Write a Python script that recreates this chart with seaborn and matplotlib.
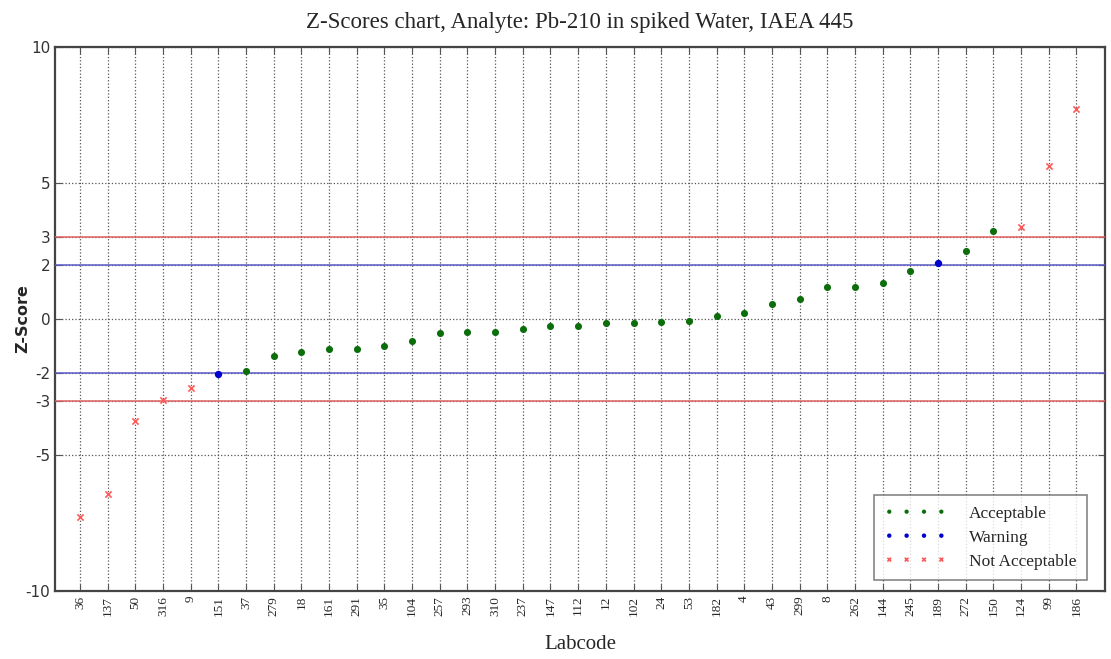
import pandas as pd
import matplotlib.pyplot as plt
import seaborn as sns

# dados
labcodes = ['36', '137', '50', '316', '9', '151', '37', '279', '18', '161', '291', '35', '104',
            '257', '293', '310', '237', '147', '112', '12', '102', '24', '53', '182', '4', '43',
            '299', '8', '262', '144', '245', '189', '272', '150', '124', '99', '186']
zscores = [-7.27, -6.45, -3.74, -2.99, -2.55, -2.02, -1.90, -1.36, -1.21, -1.11, -1.12, -0.99, -0.80,
           -0.50, -0.48, -0.48, -0.37, -0.26, -0.26, -0.15, -0.15, -0.11, -0.07, 0.12, 0.21, 0.55,
           0.74, 1.16, 1.17, 1.34, 1.75, 2.07, 2.50, 3.25, 3.39, 5.61, 7.71]
status = ['Not Acceptable'] * 5 + ['Warning'] + ['Acceptable'] * 25 + ['Warning'] + \
         ['Acceptable'] * 2 + ['Not Acceptable'] * 3
yticks = [-10, -5, -3, -2, 0, 2, 3, 5, 10]

dados = pd.DataFrame({'Labcode': labcodes, 'Z': zscores, 'Status': status})
dados['pos'] = range(1, len(labcodes) + 1)

sns.set_style('ticks')
plt.rcParams['font.family'] = ['Liberation Serif', 'DejaVu Serif']

fig = plt.figure(figsize=(11.11, 6.59), dpi=100)
ax = fig.add_axes([0.0495, 0.1032, 0.945, 0.8255])

estilos = {'Acceptable': ('#0b6e0b', 'o', 26),
           'Warning': ('#0000d0', 'o', 28),
           'Not Acceptable': ('#ff5a5a', 'x', 20)}
for nome in ['Acceptable', 'Warning', 'Not Acceptable']:
    cor, marc, tam = estilos[nome]
    sub = dados[dados['Status'] == nome]
    sns.scatterplot(data=sub, x='pos', y='Z', color=cor, marker=marc, s=tam,
                    linewidth=1.2 if marc == 'x' else 0, label=nome, ax=ax, zorder=5)

# linhas de limite
ax.axhline(3, color='#e06060', lw=1.1, zorder=3)
ax.axhline(-3, color='#e06060', lw=1.1, zorder=3)
ax.axhline(2, color='#5a5ac8', lw=1.1, zorder=3)
ax.axhline(-2, color='#5a5ac8', lw=1.1, zorder=3)

ax.set_xlim(0.1, len(labcodes) + 1.03)
ax.set_ylim(-10, 10)
ax.set_xticks(dados['pos'])
ax.set_xticklabels(labcodes, rotation=90, fontsize=9.5)
ax.set_yticks(yticks)
ax.set_yticklabels([str(v) for v in yticks], fontsize=11, family='DejaVu Sans', color='#333333')
ax.grid(True, linestyle=':', color='#555555', lw=0.9)
ax.tick_params(direction='in', top=True, right=True, length=5, color='#555555')
for s in ax.spines.values():
    s.set_linewidth(1.6)
    s.set_color('#444444')

ax.set_title('Z-Scores chart, Analyte: Pb-210 in spiked Water, IAEA 445', fontsize=16.5, pad=14)
ax.set_xlabel('Labcode', fontsize=15, labelpad=14)
ax.set_ylabel('Z-Score', fontsize=11.5, fontweight='bold', family='DejaVu Sans')
ax.yaxis.set_label_coords(-0.024, 0.5)

leg = ax.legend(loc='lower right', scatterpoints=4, scatteryoffsets=[0.5], fontsize=12.5,
                frameon=True, fancybox=False, edgecolor='#666666', borderpad=0.6,
                borderaxespad=0, handlelength=3.6, handletextpad=1.3, labelspacing=0.45,
                markerscale=0.6, bbox_to_anchor=(0.983, 0.02))
leg.get_frame().set_linewidth(1.2)

plt.savefig('out.png', dpi=100)
plt.close()
